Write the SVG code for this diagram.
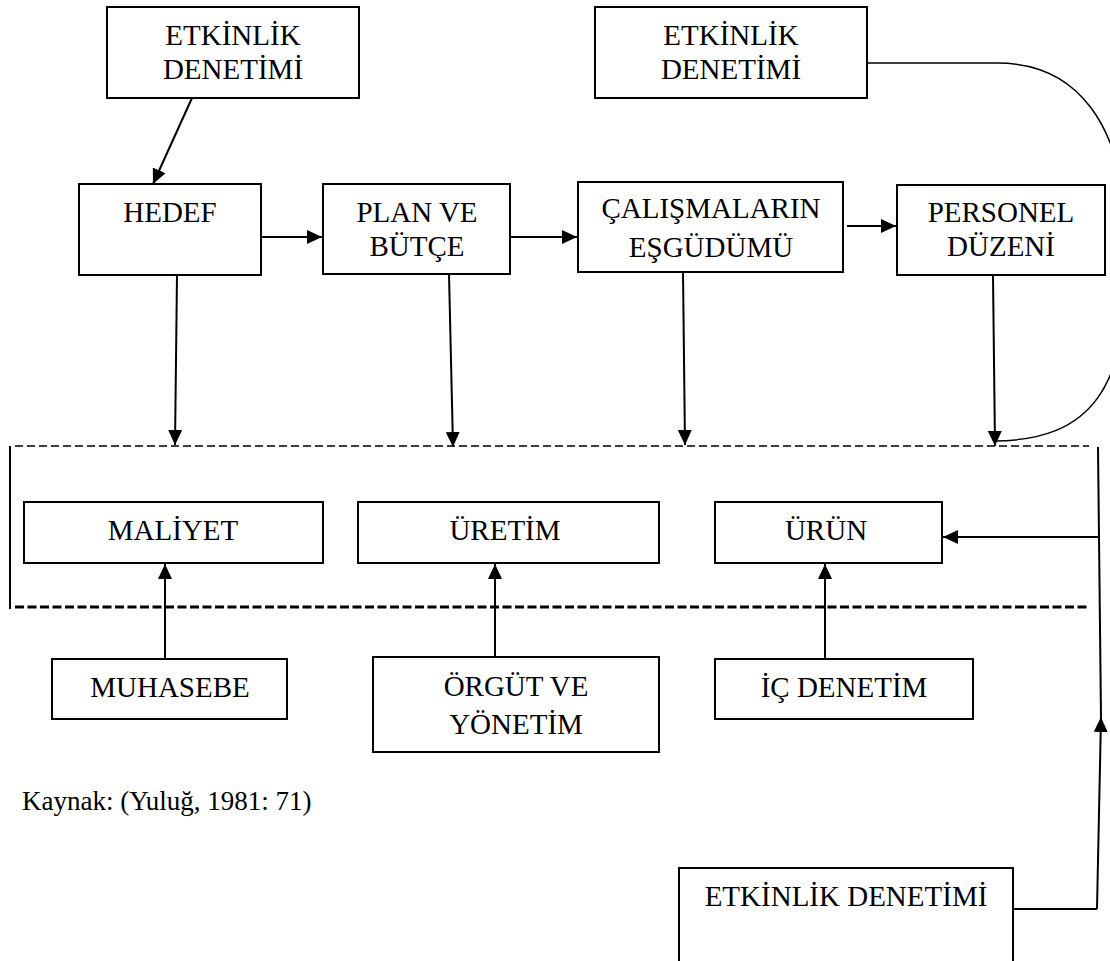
<svg xmlns="http://www.w3.org/2000/svg" width="1110" height="961" viewBox="0 0 1110 961">
<style>
.box{fill:#fff;stroke:#000;stroke-width:2}
.t{font-family:"Liberation Serif","Times New Roman",serif;font-size:29px;fill:#000;text-anchor:middle}
.c{fill:none;stroke:#000;stroke-width:2}
.thin{fill:none;stroke:#000;stroke-width:1.5}
.a{marker-end:url(#ah)}
</style>
<defs>
<marker id="ah" markerUnits="userSpaceOnUse" markerWidth="16" markerHeight="14" refX="15" refY="7" orient="auto">
<path d="M0,0 L15,7 L0,14 Z" fill="#000"/>
</marker>
</defs>
<rect width="1110" height="961" fill="#fff"/>
<g id="frame">
<line x1="15" y1="446" x2="1089" y2="446" stroke="#000" stroke-width="1.5" stroke-dasharray="8,4"/>
<line x1="15" y1="607" x2="1089" y2="607" stroke="#000" stroke-width="3" stroke-dasharray="9,3.5"/>
<line x1="10" y1="446" x2="10" y2="609" stroke="#000" stroke-width="2"/>
</g>
<g id="connectors">
<path class="c a" d="M192,98 L153,184"/>
<path class="c a" d="M261,237 L322,237"/>
<path class="c a" d="M510,237 L577,237"/>
<path class="c a" d="M847,226 L896,226"/>
<path class="c a" d="M177,275 L175,445"/>
<path class="c a" d="M449,274 L453,447"/>
<path class="c a" d="M683,272 L685,445"/>
<path class="c a" d="M993,276 L995,446"/>
<path class="thin" d="M867,63 L997,63 C1075,63 1126,120 1128,250 C1130,390 1090,440 995,441"/>
<path class="c a" d="M165,659 L165,564"/>
<path class="c a" d="M495,657 L495,564"/>
<path class="c a" d="M825,659 L825,564"/>
<path class="c" d="M1098,447 L1101,717"/>
<path class="c a" d="M1098,537 L943,537"/>
<path class="c" d="M1013,909 L1097,909"/>
<path class="c a" d="M1097,909 L1101,717"/>
</g>
<g id="n-etk1"><rect class="box" x="107" y="7" width="252" height="91"/><text class="t" x="233" y="45">ETKİNLİK</text><text class="t" x="233" y="79">DENETİMİ</text></g>
<g id="n-etk2"><rect class="box" x="595" y="7" width="272" height="91"/><text class="t" x="731" y="45">ETKİNLİK</text><text class="t" x="731" y="79">DENETİMİ</text></g>
<g id="n-hedef"><rect class="box" x="79" y="184" width="182" height="91"/><text class="t" x="170" y="222">HEDEF</text></g>
<g id="n-plan"><rect class="box" x="323" y="184" width="187" height="90"/><text class="t" x="417" y="222">PLAN VE</text><text class="t" x="417" y="256">BÜTÇE</text></g>
<g id="n-calisma"><rect class="box" x="578" y="182" width="265" height="90"/><text class="t" x="711" y="218">ÇALIŞMALARIN</text><text class="t" x="711" y="257">EŞGÜDÜMÜ</text></g>
<g id="n-personel"><rect class="box" x="897" y="185" width="208" height="90"/><text class="t" x="1001" y="222">PERSONEL</text><text class="t" x="1001" y="256">DÜZENİ</text></g>
<g id="n-maliyet"><rect class="box" x="24" y="502" width="299" height="61"/><text class="t" x="173" y="540">MALİYET</text></g>
<g id="n-uretim"><rect class="box" x="358" y="502" width="301" height="61"/><text class="t" x="505" y="540">ÜRETİM</text></g>
<g id="n-urun"><rect class="box" x="715" y="502" width="227" height="61"/><text class="t" x="826" y="540">ÜRÜN</text></g>
<g id="n-muhasebe"><rect class="box" x="52" y="659" width="235" height="60"/><text class="t" x="170" y="697">MUHASEBE</text></g>
<g id="n-orgut"><rect class="box" x="373" y="657" width="286" height="95"/><text class="t" x="516" y="696">ÖRGÜT VE</text><text class="t" x="516" y="734">YÖNETİM</text></g>
<g id="n-ic"><rect class="box" x="715" y="659" width="258" height="60"/><text class="t" x="844" y="697">İÇ DENETİM</text></g>
<g id="n-etk3"><path class="box" d="M679,975 L679,868 L1013,868 L1013,975"/><text class="t" x="846" y="906">ETKİNLİK DENETİMİ</text></g>
<g id="source"><text x="22" y="810" style="font-family:'Liberation Serif','Times New Roman',serif;font-size:27px;fill:#000">Kaynak: (Yuluğ, 1981: 71)</text></g>
</svg>
